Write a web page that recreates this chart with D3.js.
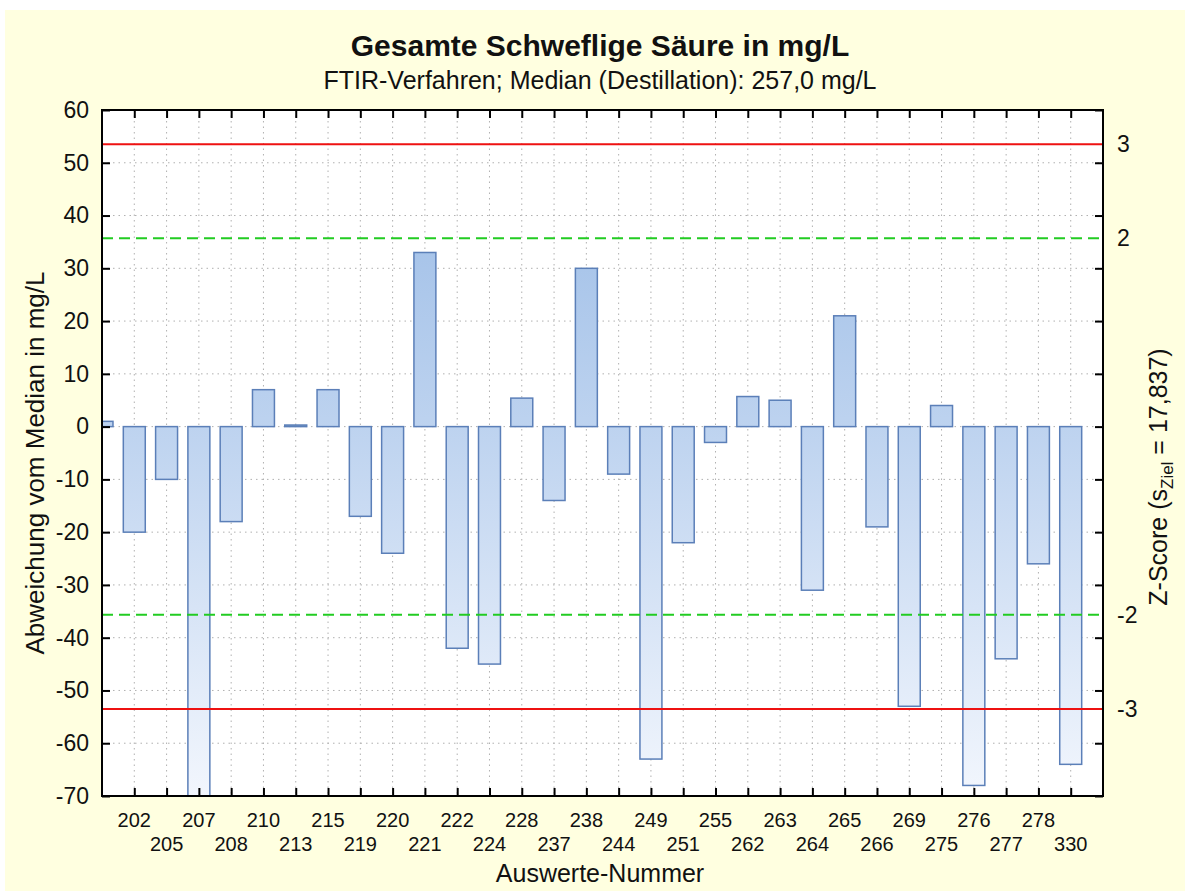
<!DOCTYPE html>
<html>
<head>
<meta charset="utf-8">
<script src="https://cdn.jsdelivr.net/npm/d3@7"></script>
<style>
  html, body { margin: 0; padding: 0; background: #ffffff; }
  svg { display: block; font-family: Arial, "Liberation Sans", sans-serif; }
</style>
</head>
<body>
<svg id="chart" width="1190" height="893"></svg>
<script>
// Participant numbers (the first position carries no printed label)
const labs = ["", "202", "205", "207", "208", "210", "213", "215", "219", "220", "221",
  "222", "224", "228", "237", "238", "244", "249", "251", "255", "262",
  "263", "264", "265", "266", "269", "275", "276", "277", "278", "330"];
// Deviation from the median in mg/L
const deviations = [1, -20, -10, -74, -18, 7, 0.3, 7, -17, -24, 33,
  -42, -45, 5.4, -14, 30, -9, -63, -22, -3, 5.7,
  5, -31, 21, -19, -53, 4, -68, -44, -26, -64];
const yTicks = [60, 50, 40, 30, 20, 10, 0, -10, -20, -30, -40, -50, -60, -70];
const zTicks = [3, 2, -2, -3];
const sZiel = 17.837;

const svg = d3.select("#chart");
const W = 1190, H = 893;
const m = { left: 102, top: 110, right: 1103, bottom: 796 };
const plain = d => String(d); // hyphen-minus for negative numbers

// Background panel
svg.append("rect").attr("x", 5).attr("y", 10).attr("width", W - 10).attr("height", H - 12)
  .attr("fill", "#ffffe0");

const x = d3.scaleLinear().domain([0, labs.length]).range([m.left, m.right]);
const y = d3.scaleLinear().domain([-70, 60]).range([m.bottom, m.top]);
const bw = (x(1) - x(0)) * 0.68;

svg.append("rect").attr("x", m.left).attr("y", m.top)
  .attr("width", m.right - m.left).attr("height", m.bottom - m.top).attr("fill", "#ffffff");

const defs = svg.append("defs");
const grad = defs.append("linearGradient").attr("id", "barGrad")
  .attr("gradientUnits", "userSpaceOnUse")
  .attr("x1", 0).attr("x2", 0).attr("y1", m.top).attr("y2", m.bottom);
grad.append("stop").attr("offset", "0%").attr("stop-color", "#97b9e5");
grad.append("stop").attr("offset", "45%").attr("stop-color", "#bcd2ef");
grad.append("stop").attr("offset", "100%").attr("stop-color", "#f2f6fd");
defs.append("clipPath").attr("id", "plotClip").append("rect")
  .attr("x", m.left).attr("y", m.top).attr("width", m.right - m.left).attr("height", m.bottom - m.top);

// Dotted grid
const grid = svg.append("g").attr("stroke", "#b0b0b0").attr("stroke-width", 1)
  .attr("stroke-dasharray", "1.5,4");
yTicks.forEach(t => {
  if (t === 60 || t === -70) return;
  grid.append("line").attr("x1", m.left).attr("x2", m.right).attr("y1", y(t)).attr("y2", y(t));
});
labs.forEach((l, i) => {
  if (i === 0) return;
  grid.append("line").attr("x1", x(i)).attr("x2", x(i)).attr("y1", m.top).attr("y2", m.bottom);
});

// Bars
svg.append("g").attr("clip-path", "url(#plotClip)")
  .selectAll("rect").data(deviations).join("rect")
  .attr("x", (d, i) => x(i) - bw / 2)
  .attr("y", d => y(Math.max(0, d)))
  .attr("width", bw)
  .attr("height", d => Math.abs(y(d) - y(0)))
  .attr("fill", "url(#barGrad)")
  .attr("stroke", "#5b7fb8").attr("stroke-width", 1.5);

// Limit lines: z = ±2 (dashed green), z = ±3 (solid red)
[2, -2].forEach(z => {
  svg.append("line").attr("x1", m.left).attr("x2", m.right)
    .attr("y1", y(z * sZiel)).attr("y2", y(z * sZiel))
    .attr("stroke", "#22cc22").attr("stroke-width", 2).attr("stroke-dasharray", "11,6");
});
[3, -3].forEach(z => {
  svg.append("line").attr("x1", m.left).attr("x2", m.right)
    .attr("y1", y(z * sZiel)).attr("y2", y(z * sZiel))
    .attr("stroke", "#ee1111").attr("stroke-width", 2);
});

// Frame
svg.append("rect").attr("x", m.left).attr("y", m.top)
  .attr("width", m.right - m.left).attr("height", m.bottom - m.top)
  .attr("fill", "none").attr("stroke", "#000").attr("stroke-width", 2);

// Left axis
const yAxisL = d3.axisLeft(y).tickValues(yTicks).tickSize(-8).tickPadding(13).tickFormat(plain);
const gL = svg.append("g").attr("transform", `translate(${m.left},0)`).call(yAxisL);
gL.select(".domain").remove();
gL.selectAll("line").attr("stroke", "#000").attr("stroke-width", 2);
gL.selectAll("text").attr("font-size", 23).attr("fill", "#111");

// Right axis: ticks every 10 mg/L, z-score labels
const yAxisR = d3.axisRight(y).tickValues(yTicks).tickSize(-8).tickFormat("");
const gR = svg.append("g").attr("transform", `translate(${m.right},0)`).call(yAxisR);
gR.select(".domain").remove();
gR.selectAll("line").attr("stroke", "#000").attr("stroke-width", 2);
const z = d3.scaleLinear().domain([-70 / sZiel, 60 / sZiel]).range([m.bottom, m.top]);
const zAxis = d3.axisRight(z).tickValues(zTicks).tickSize(0).tickPadding(14).tickFormat(plain);
const gZ = svg.append("g").attr("transform", `translate(${m.right},0)`).call(zAxis);
gZ.select(".domain").remove();
gZ.selectAll("text").attr("font-size", 23).attr("fill", "#111");

// Bottom and top axes
const pos = labs.map((l, i) => i);
const xAxisB = d3.axisBottom(x).tickValues(pos.slice(1)).tickSize(-8).tickFormat("");
const gB = svg.append("g").attr("transform", `translate(0,${m.bottom})`).call(xAxisB);
gB.select(".domain").remove();
gB.selectAll("line").attr("stroke", "#000").attr("stroke-width", 2);
const xAxisT = d3.axisTop(x).tickValues(pos.slice(1)).tickSize(-8).tickFormat("");
const gT = svg.append("g").attr("transform", `translate(0,${m.top})`).call(xAxisT);
gT.select(".domain").remove();
gT.selectAll("line").attr("stroke", "#000").attr("stroke-width", 2);

// Staggered category labels
svg.append("g").selectAll("text").data(labs).join("text")
  .attr("x", (d, i) => x(i))
  .attr("y", (d, i) => i % 2 === 1 ? 827 : 851)
  .attr("text-anchor", "middle").attr("font-size", 20).attr("fill", "#111")
  .text(d => d);

// Titles
svg.append("text").attr("x", 600).attr("y", 56).attr("text-anchor", "middle")
  .attr("font-size", 30).attr("font-weight", "bold").attr("fill", "#111")
  .text("Gesamte Schweflige Säure in mg/L");
svg.append("text").attr("x", 600).attr("y", 89).attr("text-anchor", "middle")
  .attr("font-size", 25).attr("fill", "#111")
  .text("FTIR-Verfahren; Median (Destillation): 257,0 mg/L");
svg.append("text").attr("x", 600).attr("y", 882).attr("text-anchor", "middle")
  .attr("font-size", 25).attr("fill", "#111").text("Auswerte-Nummer");
svg.append("text").attr("transform", `translate(44,463) rotate(-90)`)
  .attr("text-anchor", "middle").attr("font-size", 26).attr("fill", "#111")
  .text("Abweichung vom Median in mg/L");
const rl = svg.append("text").attr("transform", `translate(1167,477) rotate(-90)`)
  .attr("text-anchor", "middle").attr("font-size", 25).attr("fill", "#111");
rl.append("tspan").text("Z-Score (s");
rl.append("tspan").attr("font-size", 17).attr("dy", 6).text("Ziel");
rl.append("tspan").attr("dy", -6).text(" = 17,837)");
</script>
</body>
</html>
